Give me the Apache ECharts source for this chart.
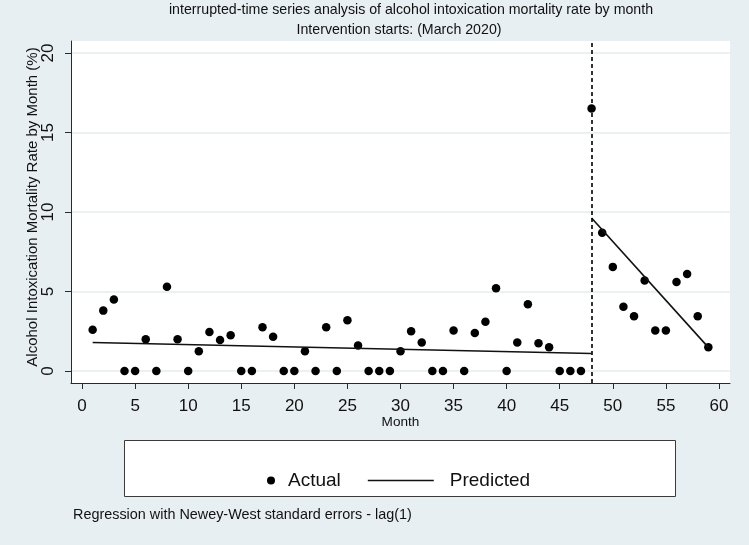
<!DOCTYPE html>
<html>
<head>
<meta charset="utf-8">
<script src="https://cdn.jsdelivr.net/npm/echarts@6/dist/echarts.min.js"></script>
<style>
html,body{margin:0;padding:0;background:#e8eff2;}
#chart{width:749px;height:545px;}
</style>
</head>
<body>
<div id="chart"></div>
<script>
// ---- data ----
const months = [1,2,3,4,5,6,7,8,9,10,11,12,13,14,15,16,17,18,19,20,21,22,23,24,25,26,27,28,29,30,
  31,32,33,34,35,36,37,38,39,40,41,42,43,44,45,46,47,48,49,50,51,52,53,54,55,56,57,58,59];
const actualRates = [2.6,3.8,4.5,0,0,2.0,0,5.3,2.0,0,1.25,2.45,1.95,2.25,0,0,2.75,2.15,0,0,
  1.25,0,2.75,0,3.2,1.6,0,0,0,1.25,2.5,1.8,0,0,2.55,0,2.4,3.1,5.2,0,1.8,4.2,1.75,1.5,0,0,0,
  16.5,8.7,6.55,4.05,3.45,5.7,2.55,2.55,5.6,6.1,3.45,1.5];
const preMonths = [1, 48];
const prePredicted = [1.80, 1.10];
const postMonths = [48, 59];
const postPredicted = [9.62, 1.49];
const interventionMonth = 48;
const xTickValues = [0,5,10,15,20,25,30,35,40,45,50,55,60];
const yTickValues = [0,5,10,15,20];
const titleText = 'interrupted-time series analysis of alcohol intoxication mortality rate by month';
const subtitleText = 'Intervention starts: (March 2020)';
const xAxisTitle = 'Month';
const yAxisTitle = 'Alcohol Intoxication Mortality Rate by Month (%)';
const footnoteText = 'Regression with Newey-West standard errors - lag(1)';
const legendActual = 'Actual';
const legendPredicted = 'Predicted';

// ---- build ----
const FONT = 'Liberation Sans, Arial, sans-serif';
const TXT = '#111';
const AX = '#2a2a2a';
const GRIDC = '#e4ecef';
const zip = (a, b) => a.map((v, i) => [v, b[i]]);

const chart = echarts.init(document.getElementById('chart'), null, {renderer: 'canvas'});
chart.setOption({
  animation: false,
  backgroundColor: '#e8eff2',
  textStyle: {fontFamily: FONT},
  grid: {left: 71, right: 19, top: 41, bottom: 162, show: true, backgroundColor: '#ffffff', borderWidth: 0},
  xAxis: {
    type: 'value', min: -1.04, max: 61.04,
    axisLine: {show: true, onZero: false, lineStyle: {color: AX, width: 1}},
    axisTick: {show: true, length: 6, customValues: xTickValues, lineStyle: {color: AX, width: 1}},
    axisLabel: {customValues: xTickValues, fontSize: 17, color: TXT, margin: 15, fontFamily: FONT},
    splitLine: {show: false},
    name: xAxisTitle, nameLocation: 'middle', nameGap: 32, nameMoveOverlap: false,
    nameTextStyle: {fontSize: 13.6, color: TXT, fontFamily: FONT}
  },
  yAxis: {
    type: 'value', min: -0.75, max: 20.75,
    axisLine: {show: true, onZero: false, lineStyle: {color: AX, width: 1}},
    axisTick: {show: true, length: 6, customValues: yTickValues, lineStyle: {color: AX, width: 1}},
    axisLabel: {customValues: yTickValues, fontSize: 17, color: TXT, margin: 14, rotate: 90, fontFamily: FONT},
    splitLine: {show: true, lineStyle: {color: GRIDC, width: 1.5}},
    name: yAxisTitle, nameLocation: 'middle', nameGap: 31, nameRotate: 90, nameMoveOverlap: false,
    nameTextStyle: {fontSize: 15, color: TXT, fontFamily: FONT, padding: [0, 0, 0, 10]}
  },
  legend: [
    {
      data: [{name: legendActual, icon: 'circle'}],
      left: 267, top: 471, padding: 0, itemWidth: 24, itemHeight: 8,
      textStyle: {fontSize: 19, color: TXT, fontFamily: FONT},
      selectedMode: false
    },
    {
      data: [{name: legendPredicted}],
      left: 367, top: 471, padding: 0, itemWidth: 66, itemHeight: 14,
      itemStyle: {opacity: 0},
      lineStyle: {color: '#111', width: 1.6},
      textStyle: {fontSize: 19, color: TXT, fontFamily: FONT, padding: [0, 0, 0, 11]},
      selectedMode: false
    }
  ],
  graphic: [
    {type: 'rect', z: 0, shape: {x: 124.5, y: 440.5, width: 551, height: 56},
      style: {fill: '#ffffff', stroke: '#3a3a3a', lineWidth: 1}},
    {type: 'text', x: 411, y: 10, style: {text: titleText, font: '14.2px ' + FONT, fill: TXT, textAlign: 'center', textVerticalAlign: 'middle'}},
    {type: 'text', x: 399, y: 30, style: {text: subtitleText, font: '14.2px ' + FONT, fill: TXT, textAlign: 'center', textVerticalAlign: 'middle'}},
    {type: 'text', x: 73, y: 515, style: {text: footnoteText, font: '14.4px ' + FONT, fill: TXT, textAlign: 'left', textVerticalAlign: 'middle'}}
  ],
  series: [
    {
      name: legendPredicted, type: 'line', data: zip(preMonths, prePredicted),
      symbol: 'none', lineStyle: {color: '#111', width: 1.6}, itemStyle: {color: '#111'},
      markLine: {
        silent: true, symbol: 'none', label: {show: false},
        lineStyle: {color: '#000', type: [4, 3], width: 1.6},
        data: [{xAxis: interventionMonth}]
      }
    },
    {
      name: legendPredicted, type: 'line', data: zip(postMonths, postPredicted),
      symbol: 'none', lineStyle: {color: '#111', width: 1.6}, itemStyle: {color: '#111'}
    },
    {
      name: legendActual, type: 'scatter', data: zip(months, actualRates),
      symbol: 'circle', symbolSize: 8.5, itemStyle: {color: '#000', opacity: 1}
    }
  ]
});
</script>
</body>
</html>
